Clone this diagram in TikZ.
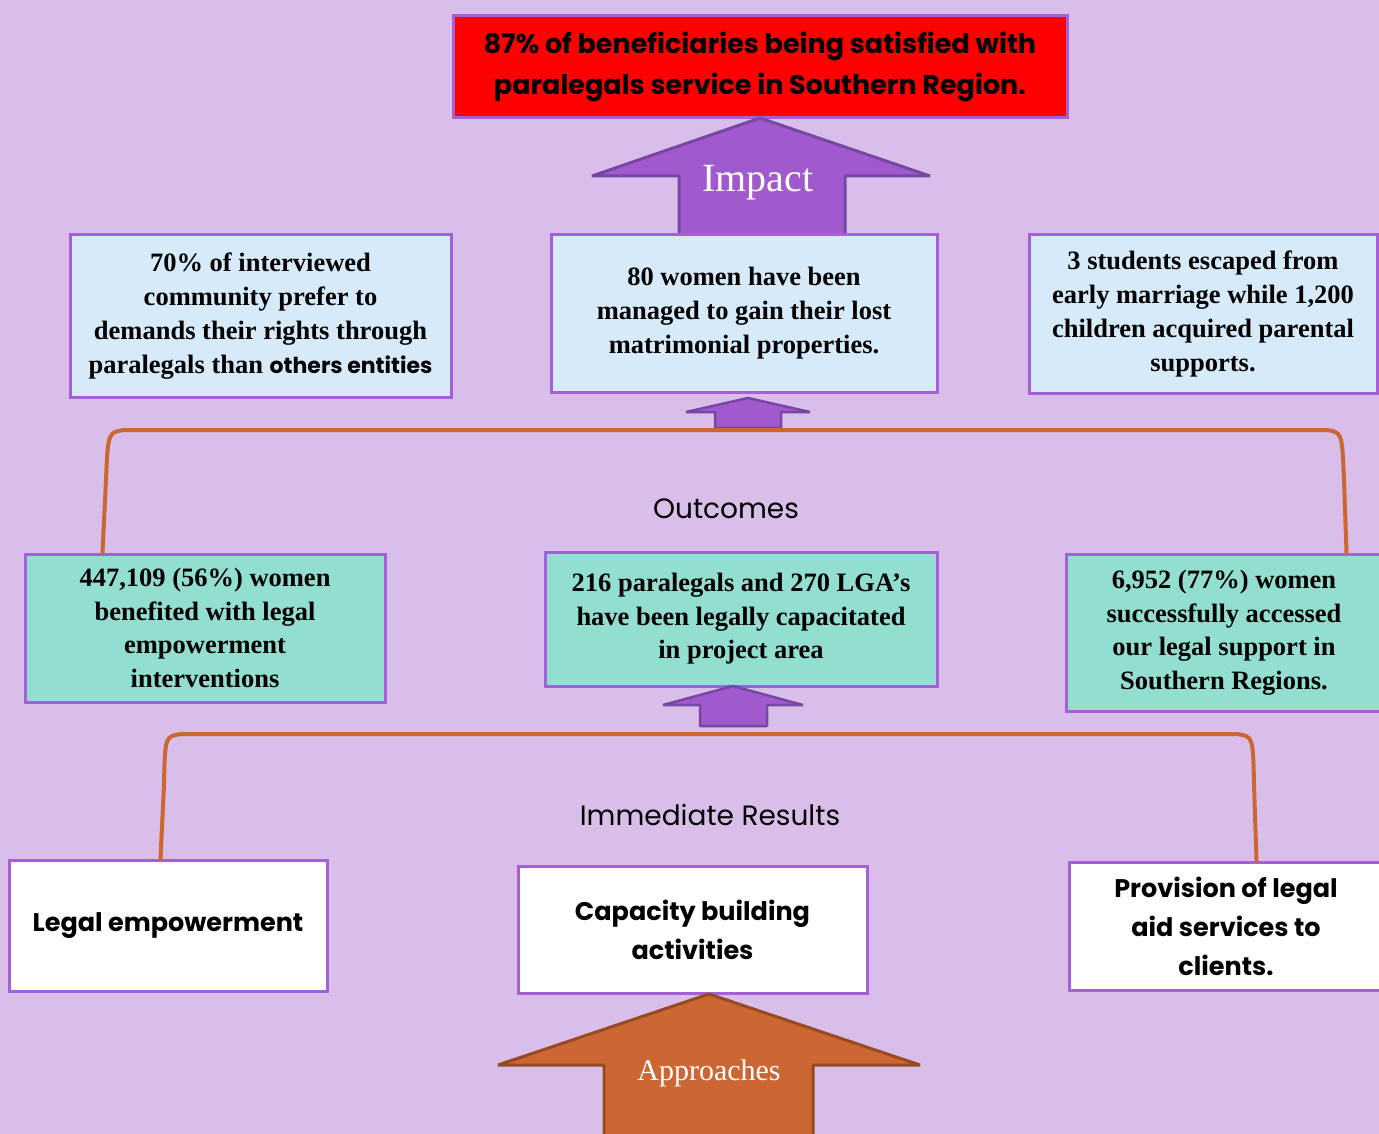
\documentclass[tikz,border=0pt]{standalone}
\usepackage{fontspec}
\setmainfont{Liberation Serif}
\newfontfamily\geo{Poppins}
\usepackage{tikz}
\usetikzlibrary{positioning, calc}

\definecolor{bgpurple}{RGB}{217,190,234}
\definecolor{boxline}{RGB}{165,95,215}
\definecolor{lightblue}{RGB}{214,234,250}
\definecolor{teal}{RGB}{146,222,208}
\definecolor{arrowpurple}{RGB}{160,90,205}
\definecolor{arrowedge}{RGB}{120,70,165}
\definecolor{rust}{RGB}{204,102,51}
\definecolor{rustedge}{RGB}{150,75,35}

\tikzset{
  box/.style={draw=boxline, line width=3pt, align=center, inner sep=0pt},
  impactbox/.style={box, fill=lightblue, font=\bfseries\fontsize{26.5}{34}\selectfont},
  outbox/.style={box, fill=teal, font=\bfseries\fontsize{26.5}{33.5}\selectfont},
  resultbox/.style={box, fill=white, font=\geo\bfseries\fontsize{25.5}{39}\selectfont},
  bracket/.style={draw=rust, line width=4pt, line cap=round},
  uparrow/.style={fill=arrowpurple, draw=arrowedge, line width=3pt, line join=bevel},
  level/.style={font=\geo\fontsize{28}{34}\selectfont}
}

\begin{document}
\begin{tikzpicture}[x=1pt, y=-1pt]
\useasboundingbox[fill=bgpurple] (0,0) rectangle (1379,1134);

% goal
\node[box, fill=red, minimum width=614pt, minimum height=102pt,
  font=\geo\bfseries\fontsize{27}{41}\selectfont] (goal) at (760,67)
  {87\% of beneficiaries being satisfied with\\paralegals service in Southern Region.};

% impact arrow
\draw[uparrow] (592,176) -- (760,118) -- (930,176) -- (845,176) -- (845,235)
  -- (679,235) -- (679,176) -- cycle;
\node[text=white, font=\fontsize{40}{40}\selectfont] (impact) at (758,183) {Impact};

% impact level
\node[impactbox, minimum width=381pt, minimum height=162pt] (imp1) at (260.5,316)
  {70\% of interviewed\\community prefer to\\demands their rights through\\paralegals than {\geo\fontsize{22}{34}\selectfont others entities}};
\node[impactbox, minimum width=386pt, minimum height=157pt] (imp2) at (744,313.5)
  {80 women have been\\managed to gain their lost\\matrimonial properties.};
\node[impactbox, minimum width=348pt, minimum height=158pt] (imp3) at (1203,314)
  {3 students escaped from\\early marriage while 1,200\\children acquired parental\\supports.};

% small arrow to impact level
\draw[uparrow, line width=2.5pt] (686,412) -- (748,398) -- (810,412) -- (781,412) -- (781,428)
  -- (715,428) -- (715,412) -- cycle;

% outcomes
\node[outbox, minimum width=360pt, minimum height=148pt] (outL) at (205,628)
  {447,109 (56\%) women\\benefited with legal\\empowerment\\interventions};
\node[outbox, minimum width=392pt, minimum height=134pt] (outM) at (741,619)
  {216 paralegals and 270 LGA's\\have been legally capacitated\\in project area};
\node[outbox, minimum width=316pt, minimum height=157pt] (outR) at (1224,632.5)
  {6,952 (77\%) women\\successfully accessed\\our legal support in\\Southern Regions.};
\node[level] (outcomes) at (726,509) {Outcomes};

\draw[bracket] ([xshift=79pt]outL.north west) -- (106,480) .. controls (108,432) .. (125,430)
  -- (1326,430) .. controls (1342,432) .. (1344,480) -- ([xshift=282pt]outR.north west);

% small arrow to outcomes
\draw[uparrow, line width=2.5pt] (663,705) -- (733,686) -- (803,705) -- (767,705) -- (767,726)
  -- (700,726) -- (700,705) -- cycle;

% immediate results
\node[resultbox, minimum width=318pt, minimum height=131pt] (irL) at (168,925.5)
  {Legal empowerment};
\node[resultbox, minimum width=349pt, minimum height=127pt] (irM) at (692.5,930)
  {Capacity building\\activities};
\node[resultbox, minimum width=314pt, minimum height=128pt] (irR) at (1226,926)
  {Provision of legal\\aid services to\\clients.};
\node[level] (results) at (710,815) {Immediate Results};

\draw[bracket] ([xshift=153pt]irL.north west) -- (164,785) .. controls (165,736) .. (182,734)
  -- (1236,734) .. controls (1253,736) .. (1254,785) -- ([xshift=189pt]irR.north west);

% approaches arrow
\draw[uparrow, fill=rust, draw=rustedge] (498,1065) -- (709,994) -- (920,1065) -- (813,1065)
  -- (813,1150) -- (604,1150) -- (604,1065) -- cycle;
\node[text=white, font=\fontsize{30}{30}\selectfont] (approaches) at (709,1073) {Approaches};
\end{tikzpicture}
\end{document}
